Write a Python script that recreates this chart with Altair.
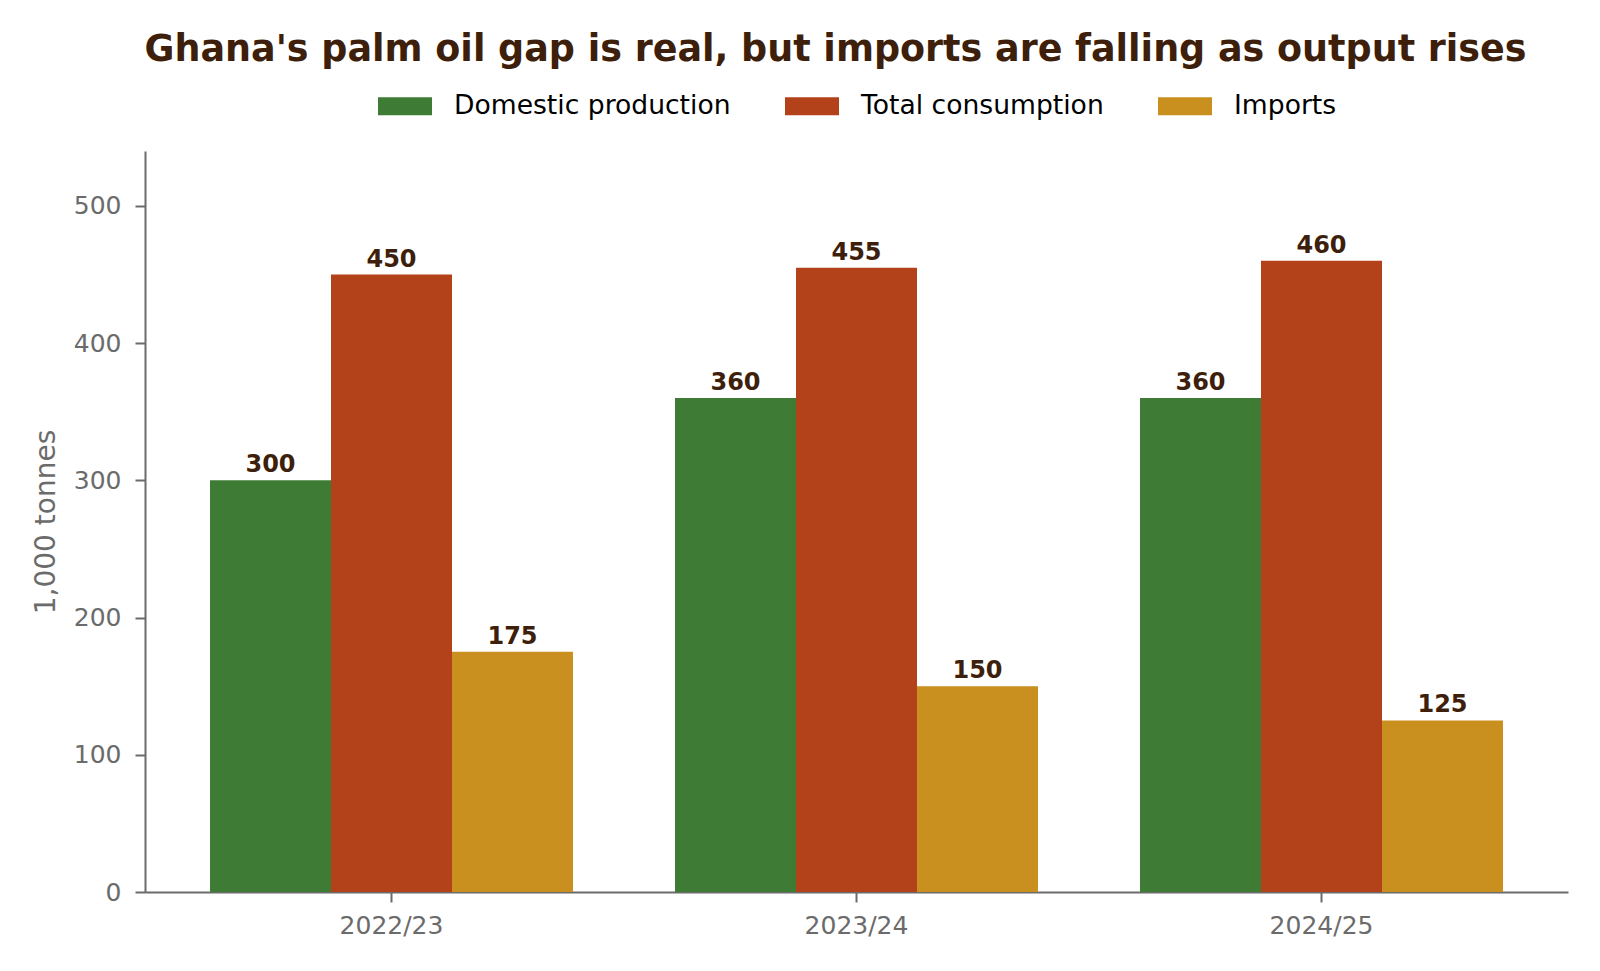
import altair as alt
import pandas as pd

years = ["2022/23", "2023/24", "2024/25"]
series = ["Domestic production", "Total consumption", "Imports"]
domestic = [300, 360, 360]
consumption = [450, 455, 460]
imports = [175, 150, 125]
colors = ["#3e7b34", "#b3421a", "#c98f1f"]

rows = []
for i, y in enumerate(years):
    for s, vals in zip(series, [domestic, consumption, imports]):
        rows.append({"year": y, "series": s, "value": vals[i]})
df = pd.DataFrame(rows)

FONT = "DejaVu Sans"
AXIS_GRAY = "#6b6b6b"
TEXT_BROWN = "#3d1f0b"

x = alt.X("year:N", sort=years, title=None,
          scale=alt.Scale(paddingInner=0.2194, paddingOuter=0.1398),
          axis=alt.Axis(labelAngle=0, labelFontSize=25, labelColor=AXIS_GRAY,
                        labelFont=FONT, tickSize=10, tickWidth=2, tickColor=AXIS_GRAY,
                        domainColor=AXIS_GRAY, domainWidth=2, labelPadding=11))
xoff = alt.XOffset("series:N", sort=series, scale=alt.Scale(paddingInner=0, paddingOuter=0))
y = alt.Y("value:Q", title="1,000 tonnes",
          scale=alt.Scale(domain=[0, 540], nice=False),
          axis=alt.Axis(values=[0, 100, 200, 300, 400, 500], grid=False,
                        labelFontSize=25, labelColor=AXIS_GRAY, labelFont=FONT,
                        tickSize=10, tickWidth=2, tickColor=AXIS_GRAY,
                        domainColor=AXIS_GRAY, domainWidth=2, labelPadding=14,
                        titleFontSize=28, titleColor=AXIS_GRAY, titleFont=FONT,
                        titleFontWeight="normal", titlePadding=13))

bars = alt.Chart(df).mark_bar().encode(
    x=x, xOffset=xoff, y=y,
    color=alt.Color("series:N", sort=series, title=None,
                    scale=alt.Scale(domain=series, range=colors),
                    legend=alt.Legend(orient="none", direction="horizontal",
                                      legendX=233, legendY=-72,
                                      symbolType="M-1,-0.333L1,-0.333L1,0.333L-1,0.333Z",
                                      symbolSize=2916, symbolStrokeWidth=0,
                                      symbolOpacity=1, labelLimit=600,
                                      labelFontSize=26.6, labelFont=FONT, labelColor="#000000",
                                      labelOffset=22, columnPadding=54)),
)

labels = alt.Chart(df).mark_text(baseline="alphabetic", dy=-8, fontSize=24,
                                 fontWeight="bold", font=FONT, color=TEXT_BROWN).encode(
    x=x, xOffset=xoff, y=y, text=alt.Text("value:Q")
)

chart = alt.layer(bars, labels).properties(
    width=1423, height=741,
    background="white",
    title=alt.Title("Ghana's palm oil gap is real, but imports are falling as output rises",
                    fontSize=36.5, fontWeight="bold", font=FONT, color=TEXT_BROWN,
                    anchor="middle", dx=-21, offset=11),
    autosize=alt.AutoSizeParams(type="none"),
    padding={"left": 145, "top": 151, "right": 32, "bottom": 79},
).configure_view(stroke=None)

chart.save("out.html", embed_options={"renderer": "svg", "actions": False})
